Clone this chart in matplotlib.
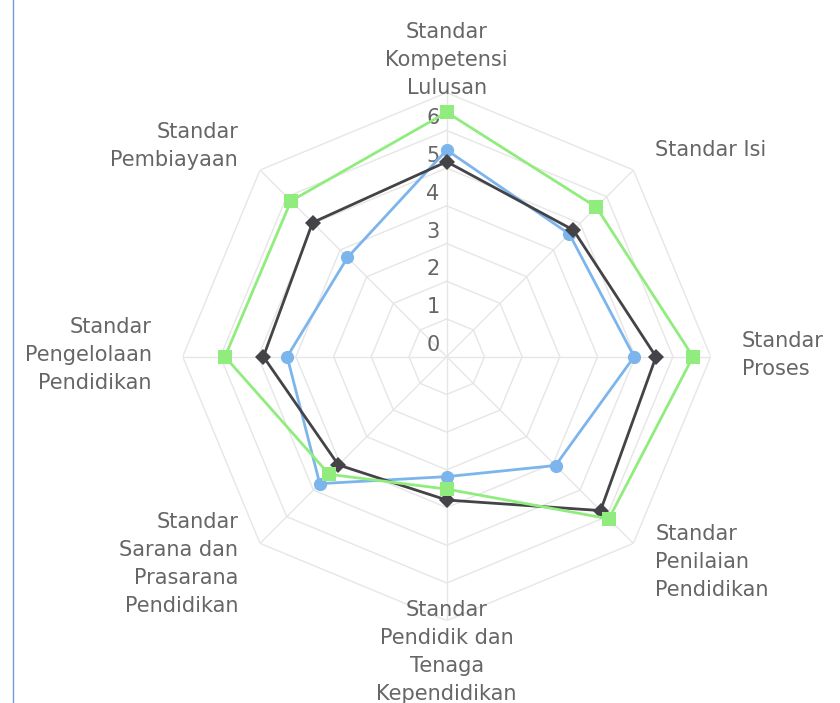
#!/usr/bin/env python3
"""Spider chart of the eight national education standards (three series)."""

from __future__ import annotations

import numpy as np
import matplotlib

matplotlib.use("Agg")
import matplotlib.pyplot as plt

CATEGORIES = [
    "Standar\nKompetensi\nLulusan",
    "Standar Isi",
    "Standar\nProses",
    "Standar\nPenilaian\nPendidikan",
    "Standar\nPendidik dan\nTenaga\nKependidikan",
    "Standar\nSarana dan\nPrasarana\nPendidikan",
    "Standar\nPengelolaan\nPendidikan",
    "Standar\nPembiayaan",
]

SERIES_BLUE = [5.48, 4.60, 4.97, 4.08, 3.18, 4.76, 4.23, 3.72]
SERIES_BLACK = [5.17, 4.75, 5.55, 5.77, 3.80, 4.06, 4.86, 5.03]
SERIES_GREEN = [6.48, 5.61, 6.53, 6.08, 3.51, 4.41, 5.88, 5.84]

Y_MAX = 7
TICK_VALUES = [0, 1, 2, 3, 4, 5, 6]

GRID = "#e6e6e6"
TEXT = "#666666"

# per-label placement: (ha, va, offset in pixels from the outer vertex)
LABEL_PLACE = [
    ("center", "bottom", (0, -5)),
    ("left", "center", (22, 20)),
    ("left", "center", (31, 2)),
    ("left", "top", (22, 19)),
    ("center", "top", (0, 21)),
    ("right", "top", (-22, 31)),
    ("right", "center", (-31, 2)),
    ("right", "bottom", (-22, 0)),
]


def main() -> None:
    W, H = 840, 703
    fig = plt.figure(figsize=(W / 100, H / 100), dpi=100)
    fig.patch.set_facecolor("white")

    cx, cy, R = 446.7, 356.7, 264.0
    ax = fig.add_axes(
        [(cx - R) / W, (H - cy - R) / H, 2 * R / W, 2 * R / H], projection="polar"
    )
    ax.set_theta_zero_location("N")
    ax.set_theta_direction(-1)
    ax.set_ylim(0, Y_MAX)
    ax.grid(False)
    ax.set_xticks([])
    ax.set_yticks([])
    ax.spines["polar"].set_visible(False)
    ax.patch.set_alpha(0)

    n = len(CATEGORIES)
    theta = np.linspace(0, 2 * np.pi, n, endpoint=False)
    closed = np.append(theta, theta[0])

    # polygon grid
    for level in range(1, Y_MAX + 1):
        ax.plot(closed, [level] * (n + 1), color=GRID, lw=1.0, zorder=1)
    for t in theta:
        ax.plot([t, t], [0, Y_MAX], color=GRID, lw=1.0, zorder=1)

    # y tick labels along the top spoke
    for v in TICK_VALUES:
        ax.annotate(str(v), xy=(0, v), xytext=(-7, 12), textcoords="offset pixels",
                    ha="right", va="center", fontsize=15, color=TEXT,
                    annotation_clip=False, zorder=2)

    # category labels
    for t, label, (ha, va, off) in zip(theta, CATEGORIES, LABEL_PLACE):
        ax.annotate(label, xy=(t, Y_MAX), xytext=off, textcoords="offset pixels",
                    ha=ha, va=va, multialignment=ha,
                    fontsize=15, color=TEXT, linespacing=1.5,
                    annotation_clip=False)

    series = [
        (SERIES_BLUE, "#7cb5ec", "o", 9.5),
        (SERIES_BLACK, "#434348", "D", 8.0),
        (SERIES_GREEN, "#90ed7d", "s", 10.0),
    ]
    for z, (vals, color, marker, ms) in enumerate(series):
        v = np.append(vals, vals[0])
        ax.plot(closed, v, color=color, lw=2.0, zorder=3 + z)
        ax.plot(theta, vals, ls="none", marker=marker, ms=ms, color=color,
                markeredgewidth=0, zorder=3 + z)

    # thin frame line at the left edge of the screenshot
    fig.add_artist(plt.Line2D([13.5 / W, 13.5 / W], [0, 1], color="#6f9bd6", lw=1.0))

    fig.savefig("out.png", dpi=100)
    plt.close(fig)


if __name__ == "__main__":
    main()
